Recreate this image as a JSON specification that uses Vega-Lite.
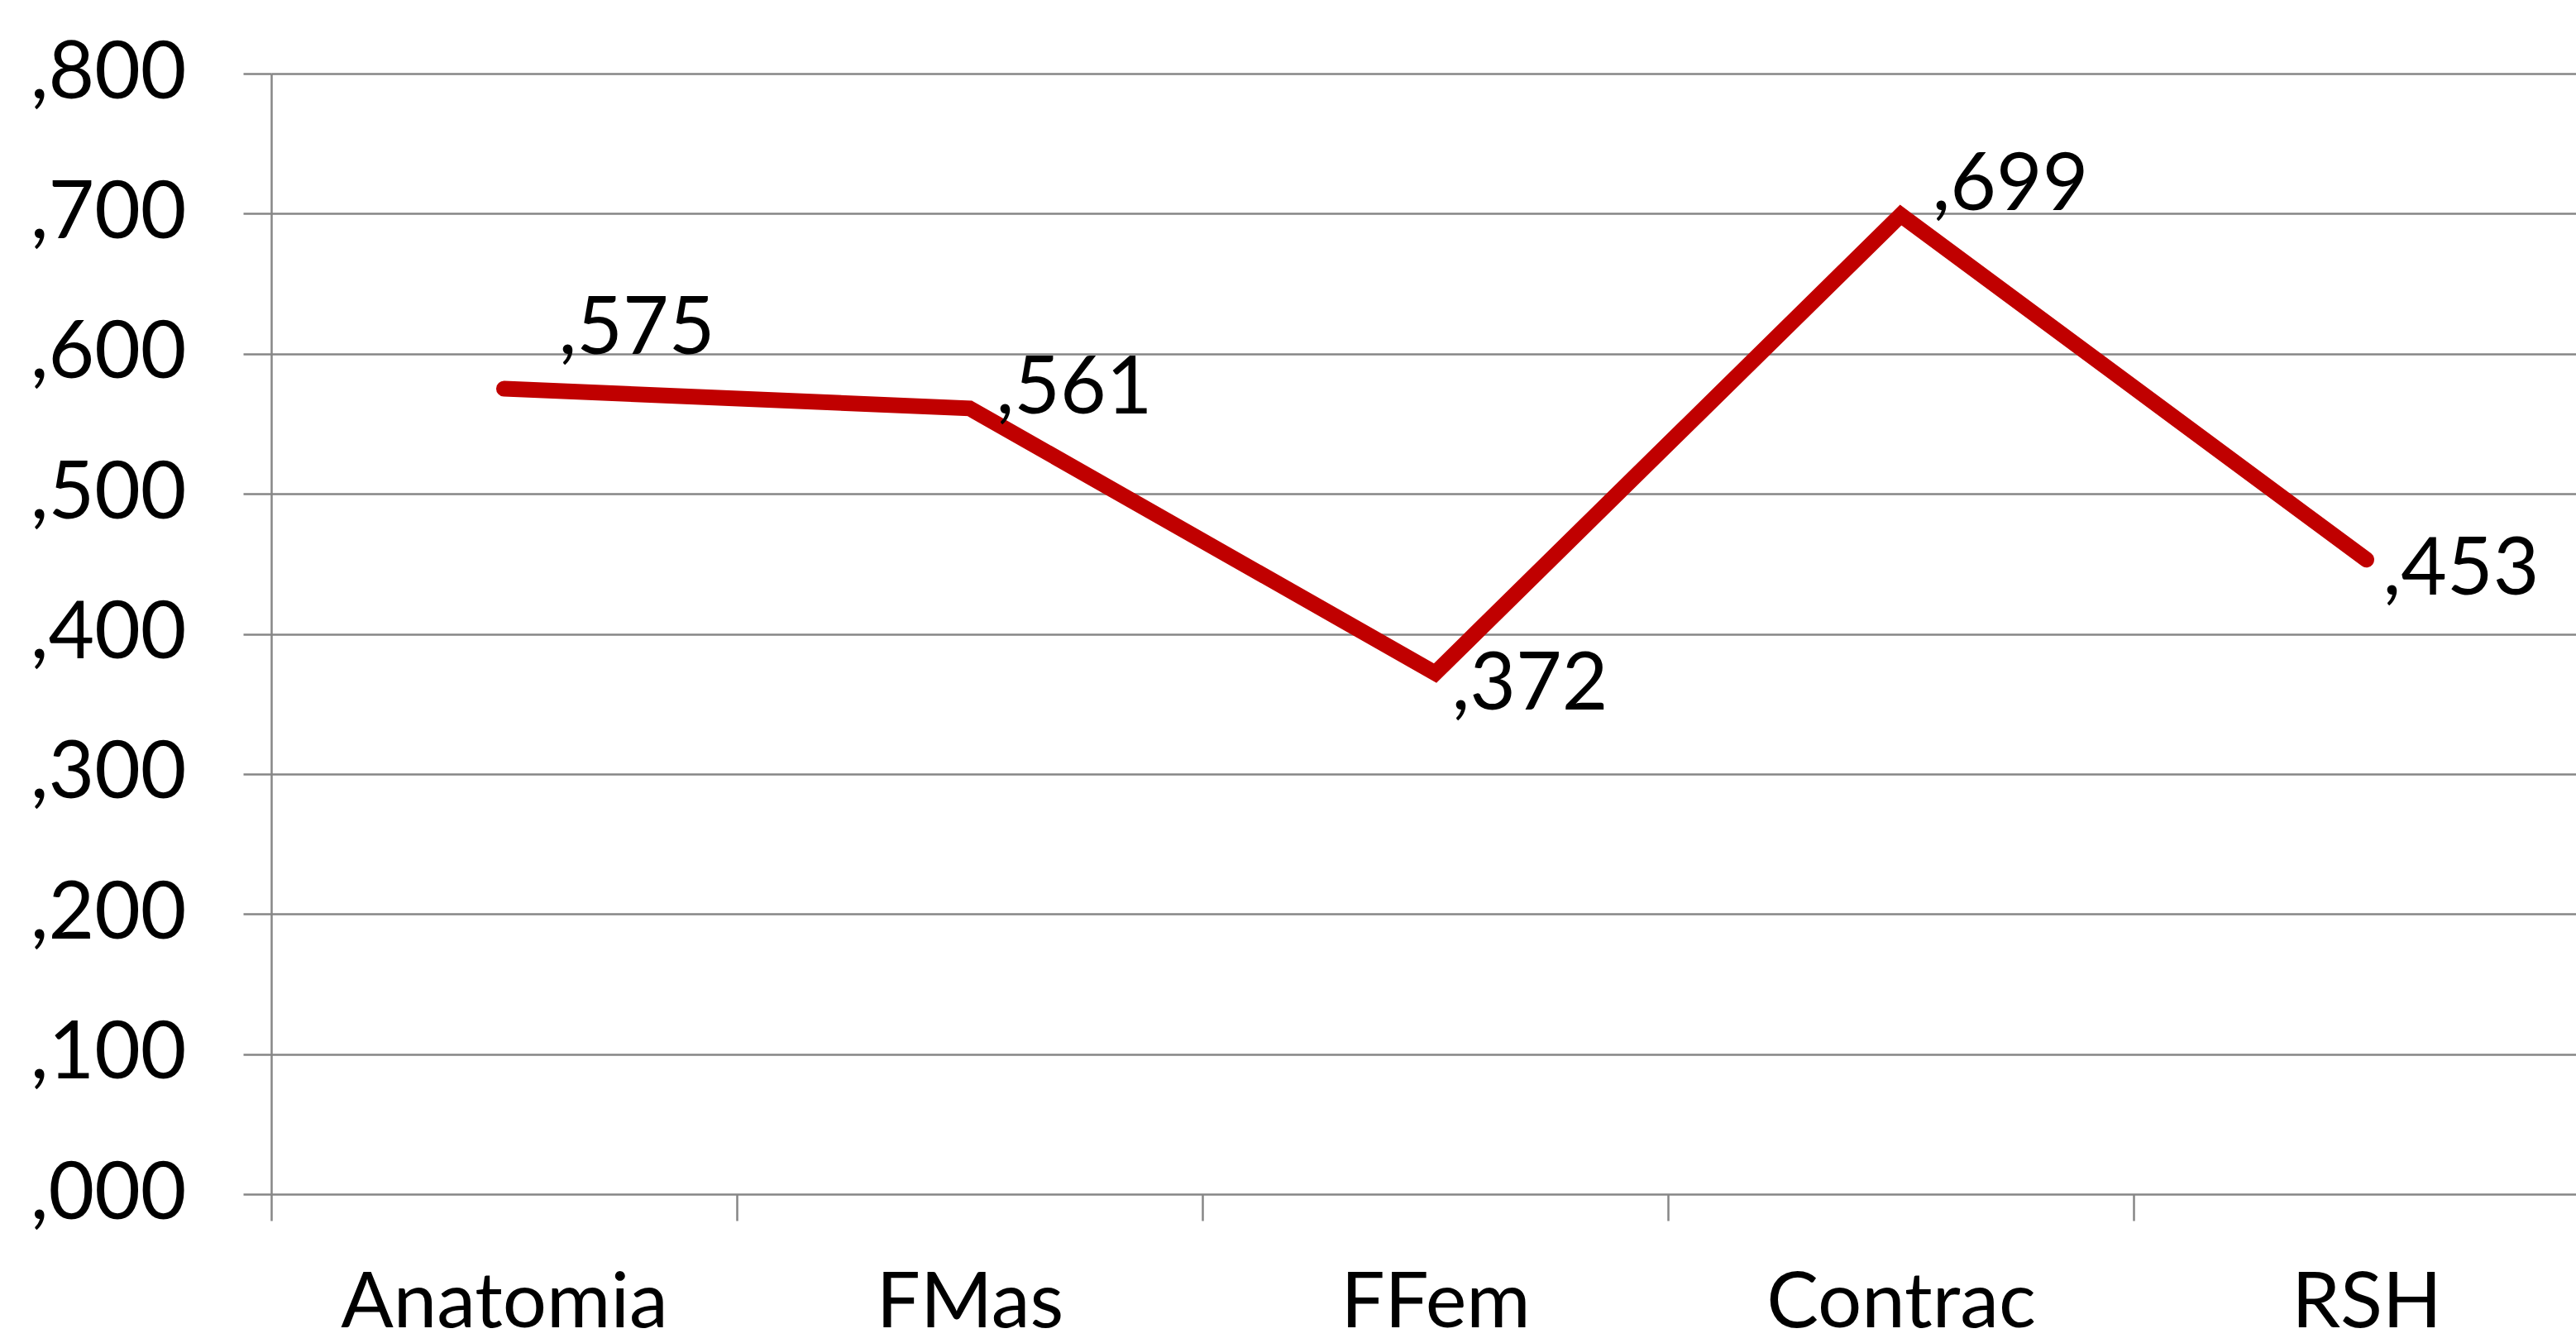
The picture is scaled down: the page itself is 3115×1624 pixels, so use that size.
{
  "$schema": "https://vega.github.io/schema/vega-lite/v6.json",
  "autosize": "none",
  "width": 2787,
  "height": 1355,
  "padding": {"left": 328, "top": 89, "right": 0, "bottom": 180},
  "background": "white",
  "config": {
    "view": {"stroke": null},
    "font": "Lato",
    "axis": {"labelFont": "Lato", "labelFontSize": 96, "labelColor": "black", "labelLimit": 0}
  },
  "data": {
    "values": [
      {"cat": "Anatomia", "v": 0.575},
      {"cat": "FMas", "v": 0.561},
      {"cat": "FFem", "v": 0.372},
      {"cat": "Contrac", "v": 0.699},
      {"cat": "RSH", "v": 0.453}
    ]
  },
  "transform": [
    {"calculate": "replace(format(datum.v, '.3f'), '0.', ',')", "as": "lbl"}
  ],
  "encoding": {
    "x": {
      "field": "cat",
      "type": "nominal",
      "sort": null,
      "scale": {"range": [0, 2815], "paddingInner": 0, "paddingOuter": 0},
      "axis": {
        "title": null,
        "domain": false,
        "grid": false,
        "ticks": true,
        "tickBand": "extent",
        "tickSize": 32,
        "tickColor": "#868686",
        "tickWidth": 2.5,
        "labelPadding": 54,
        "labelFontSize": 94,
        "labelAngle": 0,
        "labelBaseline": "top"
      }
    },
    "y": {
      "field": "v",
      "type": "quantitative",
      "scale": {"domain": [0, 0.8], "nice": false},
      "axis": {
        "title": null,
        "values": [0, 0.1, 0.2, 0.3, 0.4, 0.5, 0.6, 0.7, 0.8],
        "labelExpr": "replace(format(datum.value, '.3f'), '0.', ',')",
        "domain": true,
        "domainColor": "#868686",
        "domainWidth": 2.5,
        "grid": true,
        "gridColor": "#868686",
        "gridWidth": 2.5,
        "gridOpacity": 1,
        "tickSize": 34,
        "tickColor": "#868686",
        "tickWidth": 2.5,
        "labelPadding": 69,
        "labelBaseline": "middle"
      }
    }
  },
  "layer": [
    {
      "mark": {"type": "line", "color": "#C00000", "strokeWidth": 19, "strokeCap": "round", "strokeJoin": "miter"}
    },
    {
      "transform": [{"filter": "datum.cat == 'Anatomia'"}],
      "mark": {"type": "text", "align": "left", "baseline": "middle", "fontSize": 96, "dx": 66, "dy": -71, "color": "black"},
      "encoding": {"text": {"field": "lbl"}}
    },
    {
      "transform": [{"filter": "datum.cat == 'FMas'"}],
      "mark": {"type": "text", "align": "left", "baseline": "middle", "fontSize": 96, "dx": 32, "dy": -23, "color": "black"},
      "encoding": {"text": {"field": "lbl"}}
    },
    {
      "transform": [{"filter": "datum.cat == 'FFem'"}],
      "mark": {"type": "text", "align": "left", "baseline": "middle", "fontSize": 96, "dx": 20, "dy": 15, "color": "black"},
      "encoding": {"text": {"field": "lbl"}}
    },
    {
      "transform": [{"filter": "datum.cat == 'Contrac'"}],
      "mark": {"type": "text", "align": "left", "baseline": "middle", "fontSize": 96, "dx": 38, "dy": -35, "color": "black"},
      "encoding": {"text": {"field": "lbl"}}
    },
    {
      "transform": [{"filter": "datum.cat == 'RSH'"}],
      "mark": {"type": "text", "align": "left", "baseline": "middle", "fontSize": 96, "dx": 20, "dy": 13, "color": "black"},
      "encoding": {"text": {"field": "lbl"}}
    }
  ]
}
